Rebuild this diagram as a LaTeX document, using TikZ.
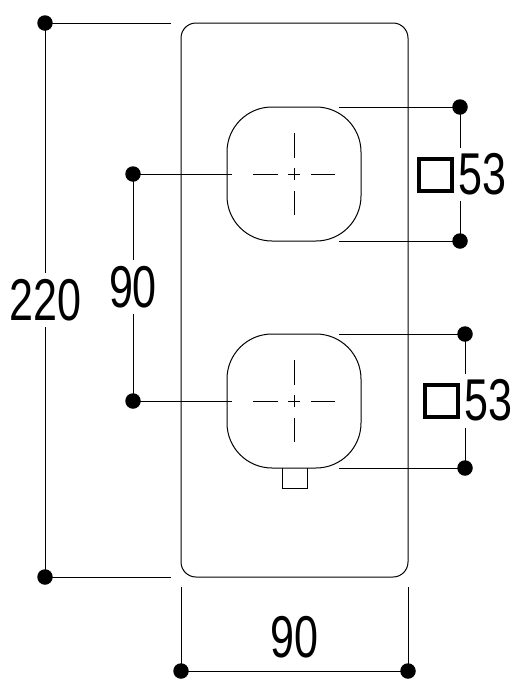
\documentclass[tikz,border=0pt]{standalone}
\usepackage{fontspec}
\newfontfamily\dimfont[FakeStretch=0.73]{Liberation Sans}
\tikzset{
  dimdot/.style={circle,fill=black,draw=none,minimum size=15.5pt,inner sep=0pt,outer sep=0pt},
  dimtext/.style={inner sep=0pt,outer sep=0pt,font=\dimfont\fontsize{59}{59}\selectfont},
  dimline/.style={line width=.85pt,black},
  outline/.style={line width=1pt,black},
  axisline/.style={line width=.75pt,black},
  sqsym/.style={draw=black,line width=3.6pt,minimum size=32.5pt,inner sep=0pt,outer sep=0pt,fill=none},
}
\begin{document}
\begin{tikzpicture}[x=1pt,y=-1pt]
\useasboundingbox (0,0) rectangle (518,686);
% plate
\node[draw=black,line width=1pt,rounded corners=15pt,minimum width=227pt,minimum height=554pt,inner sep=0pt,outer sep=0pt] (plate) at (294.5,300) {};
% knobs
\node[outline,draw,rounded corners=45pt,minimum size=134pt,inner sep=0pt,outer sep=0pt] (knobA) at (294,174) {};
\node[outline,draw,rounded corners=45pt,minimum size=134pt,inner sep=0pt,outer sep=0pt] (knobB) at (294,401) {};
% stem
\draw[outline] (282,468) -- (282,488) -- (307,488) -- (307,468);
% centre marks
\foreach \cy/\nm in {174/A,401/B}{
  \draw[axisline] (253,\cy) -- (278,\cy);
  \draw[axisline] (288,\cy) -- (300,\cy);
  \draw[axisline] (311,\cy) -- (335,\cy);
  \draw[axisline] (294,\cy-41) -- (294,\cy-16);
  \draw[axisline] (294,\cy-6) -- (294,\cy+6);
  \draw[axisline] (294,\cy+17) -- (294,\cy+41);
}
% dots
\node[dimdot] (dTL) at (45,23) {};
\node[dimdot] (dBL) at (45,577) {};
\node[dimdot] (dA) at (133,174) {};
\node[dimdot] (dB) at (133,401) {};
\node[dimdot] (a1) at (460,107) {};
\node[dimdot] (a2) at (460,241) {};
\node[dimdot] (b1) at (465,334) {};
\node[dimdot] (b2) at (465,468) {};
\node[dimdot] (w1) at (181,671) {};
\node[dimdot] (w2) at (408,671) {};
% texts
\node[dimtext] (t220) at (45.5,300) {220};
\node[dimtext] (t90a) at (133,287.5) {90};
\node[dimtext] (t90b) at (294.5,637.5) {90};
\node[dimtext,anchor=west] (t53a) at (458.5,174) {53};
\node[dimtext,anchor=west] (t53b) at (464.5,400.5) {53};
\node[sqsym] (sqa) at (435.5,175) {};
\node[sqsym] (sqb) at (441.5,401) {};
% free ends
\coordinate (e1) at (171,23);
\coordinate (e2) at (171,577);
\coordinate (e3) at (232,174);
\coordinate (e4) at (232,401);
\coordinate (e5) at (339,107);
\coordinate (e6) at (339,241);
\coordinate (e7) at (339,334);
\coordinate (e8) at (339,468);
\coordinate (e9) at (181,587);
\coordinate (e10) at (408,587);
% leaders
\draw[dimline] (dTL.center) -- (e1);
\draw[dimline] (dBL.center) -- (e2);
\draw[dimline] (dA.center) -- (e3);
\draw[dimline] (dB.center) -- (e4);
\draw[dimline] (a1.center) -- (e5);
\draw[dimline] (a2.center) -- (e6);
\draw[dimline] (b1.center) -- (e7);
\draw[dimline] (b2.center) -- (e8);
\draw[dimline] (w1.center) -- (e9);
\draw[dimline] (w2.center) -- (e10);
\draw[dimline] (w1.center) -- (w2.center);
% dimension lines, broken at the text
\draw[dimline] (dTL.center) -- (45,273);
\draw[dimline] (45,327) -- (dBL.center);
\draw[dimline] (dA.center) -- (133,260);
\draw[dimline] (133,314) -- (dB.center);
\draw[dimline] (a1.center) -- (460,148);
\draw[dimline] (460,201) -- (a2.center);
\draw[dimline] (b1.center) -- (465,374);
\draw[dimline] (465,428) -- (b2.center);
\end{tikzpicture}
\end{document}
